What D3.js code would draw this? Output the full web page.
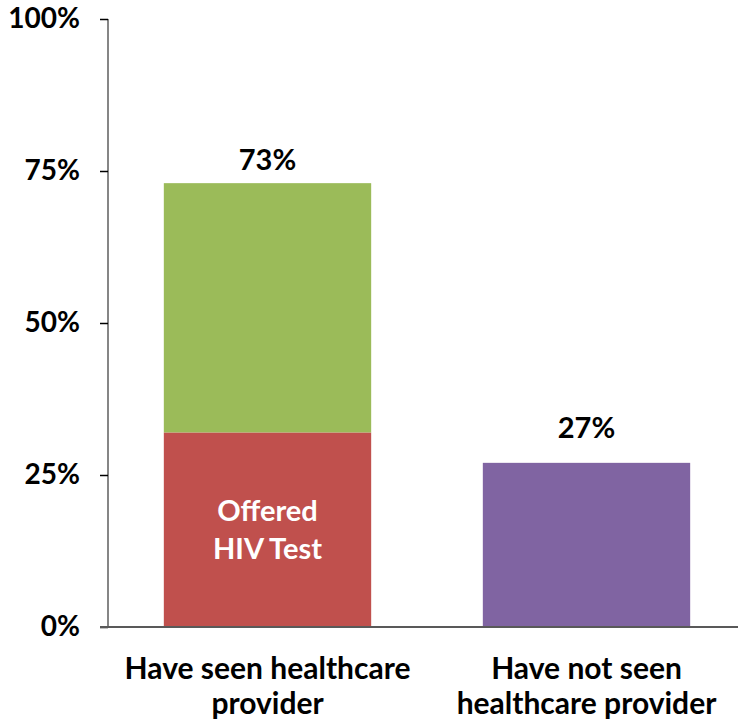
<!DOCTYPE html>
<html><head><meta charset="utf-8">
<script src="https://cdn.jsdelivr.net/npm/d3@7"></script>
<style>body{margin:0;background:#fff}svg{display:block}text{font-family:Lato,"Open Sans",sans-serif;font-weight:bold}</style>
</head><body>
<script>
const categories = ["Have seen healthcare provider", "Have not seen healthcare provider"];
const categoryLines = [["Have seen healthcare", "provider"], ["Have not seen", "healthcare provider"]];
const offeredTest = [32, 0];
const notOffered = [41, 0];
const notSeen = [0, 27];
const totalLabels = ["73%", "27%"];
const yTicks = [0, 25, 50, 75, 100];
const insideLabel = ["Offered", "HIV Test"];

const W = 738, H = 727;
const svg = d3.select("body").append("svg").attr("width", W).attr("height", H);
const y = d3.scaleLinear().domain([0, 100]).range([627, 19]);
const x = d3.scaleBand().domain(categories).range([108, 746]).paddingInner(0.35).paddingOuter(0.175);

const stackData = categories.map((c, i) => ({cat: c, offered: offeredTest[i], notOffered: notOffered[i], notSeen: notSeen[i]}));
const keys = ["offered", "notOffered", "notSeen"];
const colors = {offered: "#c0504d", notOffered: "#9bbb59", notSeen: "#8064a2"};
const series = d3.stack().keys(keys)(stackData);

svg.append("g").selectAll("g").data(series).join("g").attr("fill", d => colors[d.key])
  .selectAll("rect").data(d => d.filter(p => p[1] > p[0])).join("rect")
  .attr("x", d => x(d.data.cat)).attr("width", x.bandwidth())
  .attr("y", d => y(d[1])).attr("height", d => y(d[0]) - y(d[1]));

// y axis
const yAxis = d3.axisLeft(y).tickValues(yTicks).tickFormat(d => d + "%").tickSize(8).tickPadding(20);
const gy = svg.append("g").attr("transform", "translate(108,0)").call(yAxis);
gy.select(".domain").attr("stroke", "#868686").attr("stroke-width", 2).attr("d", `M0,${y(100)}V${y(0)}`);
gy.selectAll(".tick line").attr("stroke", "#000").attr("stroke-width", 1.5);
gy.selectAll(".tick text").attr("font-size", 28).attr("fill", "#000").attr("font-family", "Lato").attr("font-weight", "bold");

// x axis line
svg.append("line").attr("x1", 100).attr("x2", W).attr("y1", y(0)).attr("y2", y(0))
  .attr("stroke", "#595959").attr("stroke-width", 2);

// total labels
const totals = categories.map((c, i) => offeredTest[i] + notOffered[i] + notSeen[i]);
const labelGap = [13, 25];
svg.append("g").selectAll("text").data(categories).join("text")
  .attr("x", d => x(d) + x.bandwidth() / 2).attr("y", (d, i) => y(totals[i]) - labelGap[i])
  .attr("text-anchor", "middle").attr("font-size", 29).attr("fill", "#000").text((d, i) => totalLabels[i]);

// inside label
const cx0 = x(categories[0]) + x.bandwidth() / 2;
svg.append("text").attr("x", cx0).attr("y", y(offeredTest[0] / 2) - 9)
  .attr("text-anchor", "middle").attr("font-size", 29).attr("fill", "#fff")
  .selectAll("tspan").data(insideLabel).join("tspan")
  .attr("x", cx0).attr("dy", (d, i) => i === 0 ? 0 : 38).text(d => d);

// category labels
svg.append("g").selectAll("text").data(categories).join("text")
  .attr("x", d => x(d) + x.bandwidth() / 2).attr("y", 679)
  .attr("text-anchor", "middle").attr("font-size", 30).attr("fill", "#000")
  .selectAll("tspan").data((d, i) => categoryLines[i]).join("tspan")
  .attr("x", function() { return d3.select(this.parentNode).attr("x"); })
  .attr("dy", (d, i) => i === 0 ? 0 : 35).text(d => d);
</script>
</body></html>
